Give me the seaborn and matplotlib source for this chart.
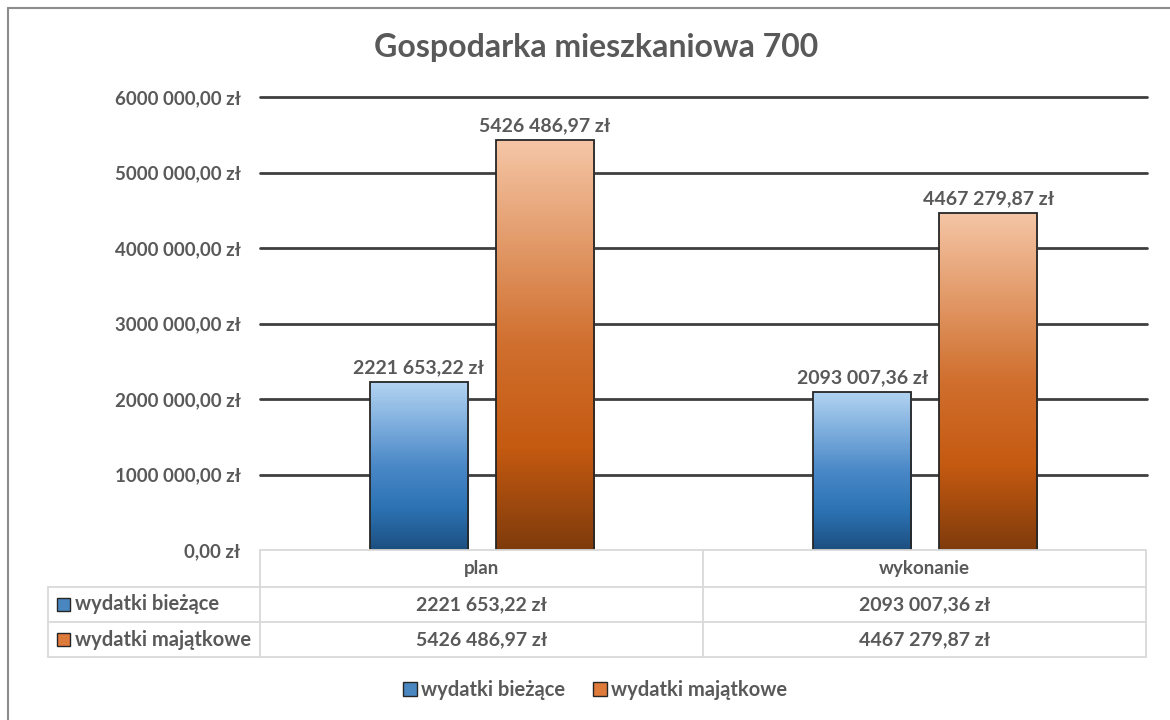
import numpy as np
import pandas as pd
import matplotlib.pyplot as plt
import seaborn as sns
from matplotlib.colors import LinearSegmentedColormap
from matplotlib.lines import Line2D
from matplotlib.patches import Rectangle

sns.set_theme(style="white")
plt.rcParams['font.family'] = ['Lato', 'DejaVu Sans']

# Data
categories = ['plan', 'wykonanie']
series = ['wydatki bieżące', 'wydatki majątkowe']
biezace = [2221653.22, 2093007.36]
majatkowe = [5426486.97, 4467279.87]
yticks = [0, 1000000, 2000000, 3000000, 4000000, 5000000, 6000000]
title = 'Gospodarka mieszkaniowa 700'

TEXT = '#595959'
GRID = '#3f3f3f'
TBL = '#d9d9d9'
W, H = 1170, 720

grad_colors = {
    'wydatki bieżące': ['#b3d4f2', '#7eaedd', '#4a88c7', '#2c73b4', '#1d4f80'],
    'wydatki majątkowe': ['#f5c6a6', '#e29a69', '#d06f2e', '#c55a11', '#7f3b0c'],
}
mid_colors = {'wydatki bieżące': '#2e75b6', 'wydatki majątkowe': '#c55a11'}
marker_colors = {'wydatki bieżące': '#4a86c0', 'wydatki majątkowe': '#de7a3a'}


def fmt_pln(v):
    s = f"{v:.2f}"
    ip, dp = s.split('.')
    if len(ip) > 3:
        ip = ip[:-3] + ' ' + ip[-3:]
    return f"{ip},{dp} zł"


def fx(px):
    return px / W


def fy(py):
    return 1 - py / H


df = pd.DataFrame({
    'kategoria': categories * 2,
    'seria': [series[0]] * 2 + [series[1]] * 2,
    'wartosc': biezace + majatkowe,
})

fig = plt.figure(figsize=(11.7, 7.2), dpi=100)
ax = fig.add_axes([fx(260), fy(550), fx(1147) - fx(260), fy(97) - fy(550)])

sns.barplot(data=df, x='kategoria', y='wartosc', hue='seria', order=categories,
            hue_order=series, palette=mid_colors, width=0.568, gap=0.22,
            edgecolor='#262626', linewidth=1.3, ax=ax, legend=False, zorder=3)

ax.set_ylim(0, 6000000)
ax.set_xlim(-0.5, 1.5)
ax.set_yticks(yticks)
ax.set_yticklabels([fmt_pln(v) for v in yticks], color=TEXT, fontsize=13.5, fontweight='bold')
ax.tick_params(axis='y', length=0, pad=14)
ax.set_xticks([])
ax.set_xlabel('')
ax.set_ylabel('')
for sp in ax.spines.values():
    sp.set_visible(False)
for v in yticks[1:]:
    ax.axhline(v, color=GRID, lw=2, zorder=1, clip_on=False)

# gradient fill clipped to each bar
grad = np.linspace(0, 1, 256).reshape(-1, 1)
for i, s in enumerate(series):
    cmap = LinearSegmentedColormap.from_list(s, grad_colors[s])
    vals = biezace if i == 0 else majatkowe
    for j, bar in enumerate(ax.containers[i]):
        x0, w, h = bar.get_x(), bar.get_width(), bar.get_height()
        im = ax.imshow(grad, cmap=cmap, aspect='auto', extent=[x0, x0 + w, 0, h],
                       origin='upper', zorder=2.5)
        im.set_clip_path(bar)
        bar.set_facecolor('none')
        ax.annotate(fmt_pln(vals[j]), (x0 + w / 2, h), xytext=(0, 4),
                    textcoords='offset points', ha='center', va='bottom',
                    fontsize=14, fontweight='bold', color=TEXT, zorder=4)
ax.set_xlim(-0.5, 1.5)
ax.set_ylim(0, 6000000)

fig.text(fx(596), fy(48), title, ha='center', va='center', fontsize=23,
         fontweight='bold', color=TEXT)

# data table under the axis
xl, xa, xm, xr = 48, 260, 703, 1146
rows_y = [550, 587, 622, 657]
lines = [
    ((xa, xr), (rows_y[0], rows_y[0])),
    ((xl, xr), (rows_y[1], rows_y[1])),
    ((xl, xr), (rows_y[2], rows_y[2])),
    ((xl, xr), (rows_y[3], rows_y[3])),
    ((xl, xl), (rows_y[1], rows_y[3])),
    ((xa, xa), (rows_y[0], rows_y[3])),
    ((xm, xm), (rows_y[0], rows_y[3])),
    ((xr, xr), (rows_y[0], rows_y[3])),
]
for (x1, x2), (y1, y2) in lines:
    fig.add_artist(Line2D([fx(x1), fx(x2)], [fy(y1), fy(y2)], color=TBL, lw=1.3))

col_centers = [(xa + xm) / 2, (xm + xr) / 2]
for c, cx in zip(categories, col_centers):
    fig.text(fx(cx), fy((rows_y[0] + rows_y[1]) / 2), c, ha='center', va='center',
             fontsize=13.5, fontweight='bold', color=TEXT)
for r, (s, vals) in enumerate(zip(series, [biezace, majatkowe])):
    yc = (rows_y[r + 1] + rows_y[r + 2]) / 2
    fig.add_artist(Rectangle((fx(xl + 9), fy(yc + 6.5)), fx(13), fy(0) - fy(13),
                             facecolor=marker_colors[s], edgecolor='#262626', lw=1))
    fig.text(fx(xl + 27), fy(yc), s, ha='left', va='center', fontsize=14.5,
             fontweight='bold', color=TEXT)
    for v, cx in zip(vals, col_centers):
        fig.text(fx(cx), fy(yc), fmt_pln(v), ha='center', va='center',
                 fontsize=14, fontweight='bold', color=TEXT)

# legend
handles = [Rectangle((0, 0), 1, 1, facecolor=marker_colors[s], edgecolor='#262626', lw=1)
           for s in series]
leg = fig.legend(handles, series, loc='center', bbox_to_anchor=(fx(595), fy(690)),
                 ncol=2, frameon=False, handlelength=0.7, handleheight=0.7,
                 handletextpad=0.2, columnspacing=1.4,
                 prop={'size': 14.5, 'weight': 'bold'})
for t in leg.get_texts():
    t.set_color(TEXT)

# outer frame
fig.add_artist(Line2D([fx(8), fx(8)], [fy(8), 0], color='#8c8c8c', lw=1.5))
fig.add_artist(Line2D([fx(8), 1], [fy(8), fy(8)], color='#8c8c8c', lw=1.5))

fig.savefig('out.png', dpi=100)
